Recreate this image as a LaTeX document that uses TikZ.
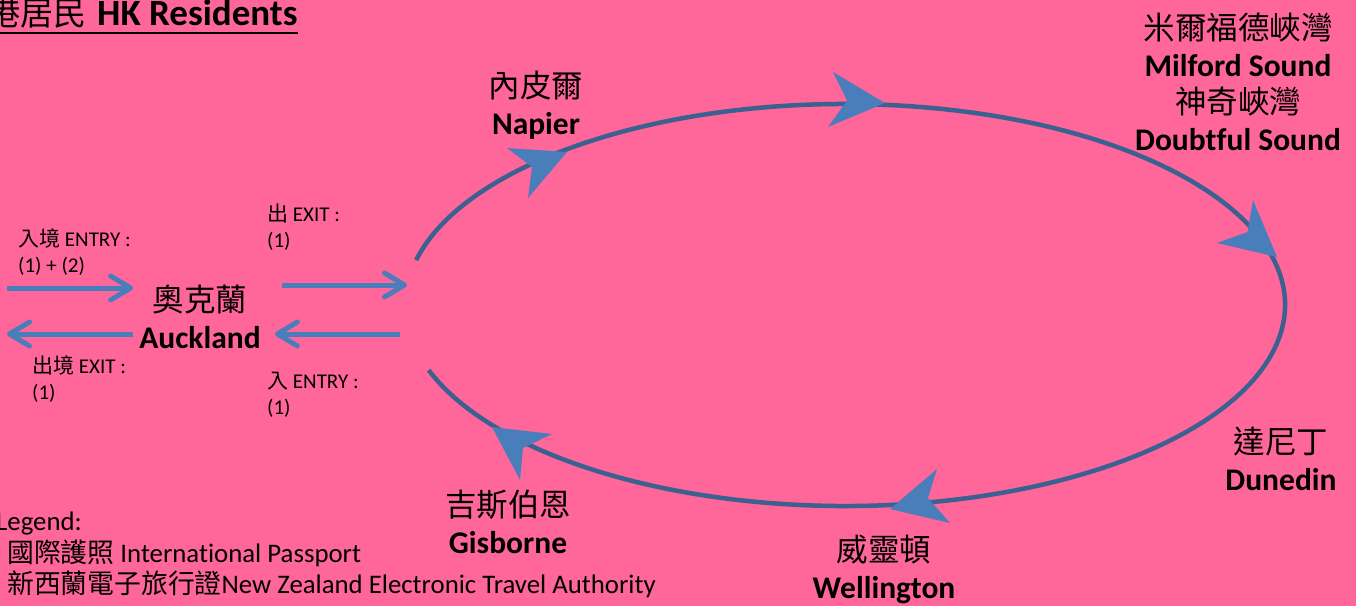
\documentclass[tikz,border=0pt]{standalone}
\usepackage{fontspec}
\setmainfont{Carlito}[Ligatures=NoCommon]
\newfontfamily\cjk{Noto Sans CJK TC}
\usetikzlibrary{arrows.meta}
\definecolor{bgpink}{HTML}{FF6699}
\definecolor{ringblue}{HTML}{3A6190}
\definecolor{headblue}{HTML}{4A7EBB}
\begin{document}
\begin{tikzpicture}[x=1pt,y=-1pt,
  place/.style={align=center,inner sep=0pt,font=\fontsize{31.5}{37}\selectfont},
  note/.style={anchor=west,align=left,inner sep=0pt,font=\fontsize{21}{26}\selectfont},
  flow/.style={draw=headblue,line width=5pt,-{Straight Barb[round,length=20pt,width=24pt]}},
  tiphead/.style={fill=headblue},
  ring/.style={draw=ringblue,line width=4.5pt}]
\fill[bgpink] (0,0) rectangle (1356,606);
\useasboundingbox (0,0) rectangle (1356,606);

% title
\node[anchor=base west,inner sep=0pt] (title) at (-13,25)
  {{\cjk\fontsize{33}{36}\selectfont 港居民}\hspace*{11pt}{\fontsize{37}{40}\selectfont\bfseries HK Residents}};
\draw[line width=1.5pt] (title.west |- 0,33) -- (title.east |- 0,33);

% ring
\draw[ring] (845,305) ++(-167.1:440 and 201)
  arc[start angle=-167.1,end angle=161.1,x radius=440,y radius=201];
\fill[tiphead] (567,152) -- (507,148) -- (532,167) -- (528,198) -- cycle;
\fill[tiphead] (885,103) -- (833,72) -- (847,100.5) -- (828,127) -- cycle;
\fill[tiphead] (1277,257) -- (1253,200) -- (1247.6,232) -- (1217,243) -- cycle;
\fill[tiphead] (890,509) -- (937,469) -- (928,498) -- (950,523) -- cycle;
\fill[tiphead] (492,427) -- (552,434) -- (523,448) -- (520,480) -- cycle;

% places
\node[place] (akl) at (200,317) {{\cjk 奧克蘭}\\\textbf{Auckland}};
\node[place] (npr) at (536,105.5) {{\cjk 內皮爾}\\\textbf{Napier}};
\node[place] (mil) at (1238,81.5) {{\cjk 米爾福德峽灣}\\\textbf{Milford Sound}\\{\cjk 神奇峽灣}\\\textbf{Doubtful Sound}};
\node[place] (dun) at (1281,459) {{\cjk 達尼丁}\\\textbf{Dunedin}};
\node[place] (wel) at (884,569) {{\cjk 威靈頓}\\\textbf{Wellington}};
\node[place] (gis) at (508,522) {{\cjk 吉斯伯恩}\\\textbf{Gisborne}};

% entry / exit arrows
\coordinate (inL) at (7,288);
\coordinate (outL) at (7,334);
\coordinate (gapTop) at (407,285);
\coordinate (gapBot) at (400,334);
\draw[flow] (inL) -- ([xshift=-6pt]inL -| akl.west);
\draw[flow] ([xshift=-6pt]akl.west |- outL) -- (outL);
\draw[flow] ([xshift=21pt]akl.east |- gapTop) -- (gapTop);
\draw[flow] (gapBot) -- ([xshift=14pt]akl.east |- gapBot);

% notes
\node[note] (entryL) at (18,252) {{\cjk 入境} ENTRY :\\(1) + (2)};
\node[note] (exitL) at (32,379) {{\cjk 出境} EXIT :\\(1)};
\node[note] (exitR) at (267,227) {{\cjk 出} EXIT :\\(1)};
\node[note] (entryR) at (267,395) {{\cjk 入} ENTRY :\\(1)};

% legend
\node[anchor=west,align=left,inner sep=0pt,font=\fontsize{26.8}{31.5}\selectfont] (legend) at (-4,555)
  {Legend:\\\hspace*{11pt}{\cjk 國際護照} International Passport\\\hspace*{11pt}{\cjk 新西蘭電子旅行證}New Zealand Electronic Travel Authority};
\end{tikzpicture}
\end{document}
